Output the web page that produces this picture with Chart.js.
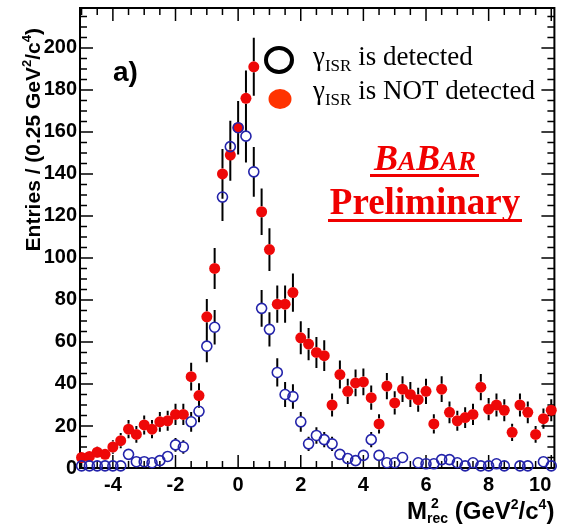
<!DOCTYPE html>
<html lang="en">
<head>
<meta charset="UTF-8">
<title>M2rec - BABAR</title>
<script src="https://cdn.jsdelivr.net/npm/chart.js"></script>
<style>
    html, body { margin: 0; padding: 0; background: #fff; }
</style>
</head>
<body>
<canvas id="grafico" width="561" height="526"></canvas>

<script>
    // bins de 0.25 GeV^2/c^4, primeiro ponto em -5
    const xInicio = -5;
    const xPasso = 0.25;

    // gamma ISR NAO detectado (vermelho cheio)
    const naoDetectado = [5, 5.5, 7.5, 6.5, 10, 13, 18.5, 16, 20.5, 18.5,
        22, 22.5, 25.5, 25.5, 43.5, 34.5, 72, 95, 140, 149,
        162, 176, 191, 122, 104, 78, 78, 83.5, 62, 59,
        55, 53.5, 30, 44.5, 36.5, 40.5, 41, 33.5, 21, 39,
        31, 37.5, 35, 32.5, 36.5, 21, 37.5, 26.5, 22.5, 24,
        25.5, 38.5, 28, 30, 27.5, 17, 30, 26.5, 16, 23.5, 27.5];

    // gamma ISR detectado (azul vazio)
    const detectado = [1, 1, 1, 1, 1, 1, 6.5, 3, 3, 2.5,
        3.5, 5.5, 11, 10, 22, 27, 58, 67, 129, 153,
        162, 158, 141, 76, 66, 45.5, 35, 34, 22, 11.5,
        15.5, 13.5, 11.5, 6.5, 4.5, 3.5, 6, 13.5, 6, 2.5,
        2.5, 5, null, 2.5, 2, 2, 4, 4, 2.5, 1,
        2.5, 1, 1, 2, 1, null, 1, 1, null, 3, 1];

    const ticksX = [-5, -4, -2, 0, 2, 4, 6, 8, 10];
    const rotulosX = ['', '-4', '-2', '0', '2', '4', '6', '8', '10'];
    const ticksY = [0, 20, 40, 60, 80, 100, 120, 140, 160, 180, 200];

    function pontos(valores) {
        return valores.map((v, i) => ({ x: xInicio + i * xPasso, y: v }));
    }

    // desenha pedacos de texto em sequencia: [texto, fonte, deslocamento vertical]
    function larguraTrechos(ctx, trechos) {
        let w = 0;
        trechos.forEach(t => { ctx.font = t[1]; w += ctx.measureText(t[0]).width; });
        return w;
    }
    function escreveTrechos(ctx, trechos, x, y) {
        trechos.forEach(t => {
            ctx.font = t[1];
            ctx.fillText(t[0], x, y + t[2]);
            x += ctx.measureText(t[0]).width;
        });
        return x;
    }

    // moldura e ticks para dentro (estilo ROOT)
    const moldura = {
        id: 'moldura',
        beforeDatasetsDraw(chart) {
            const { ctx, chartArea: a, scales: { x, y } } = chart;
            ctx.save();
            ctx.strokeStyle = '#000';
            ctx.lineWidth = 2;
            ctx.strokeRect(a.left, a.top, a.right - a.left, a.bottom - a.top);
            ctx.lineWidth = 1.5;
            ctx.beginPath();
            for (let v = -5; v <= 10; v += 0.5) {
                const px = x.getPixelForValue(v);
                const len = (v % 2 === 0) ? 13 : 7;
                ctx.moveTo(px, a.bottom); ctx.lineTo(px, a.bottom - len);
                ctx.moveTo(px, a.top); ctx.lineTo(px, a.top + len);
            }
            for (let v = 0; v <= 215; v += 5) {
                const py = y.getPixelForValue(v);
                const len = (v % 20 === 0) ? 13 : 7;
                ctx.moveTo(a.left, py); ctx.lineTo(a.left + len, py);
                ctx.moveTo(a.right, py); ctx.lineTo(a.right - len, py);
            }
            ctx.stroke();
            ctx.restore();
        }
    };

    // barras de erro: sqrt(N) de cada bin
    const barrasErro = {
        id: 'barrasErro',
        beforeDatasetsDraw(chart) {
            const { ctx, scales: { x, y } } = chart;
            ctx.save();
            ctx.strokeStyle = '#000';
            ctx.lineWidth = 2;
            ctx.beginPath();
            chart.data.datasets.forEach(ds => {
                const r = ds.pointRadius;
                ds.data.forEach(p => {
                    if (p.y == null) return;
                    const e = Math.sqrt(p.y);
                    const px = x.getPixelForValue(p.x);
                    const py = y.getPixelForValue(p.y);
                    const topo = y.getPixelForValue(p.y + e);
                    const base = y.getPixelForValue(Math.max(p.y - e, 0));
                    if (topo < py - r) { ctx.moveTo(px, topo); ctx.lineTo(px, py - r); }
                    if (base > py + r) { ctx.moveTo(px, py + r); ctx.lineTo(px, base); }
                });
            });
            ctx.stroke();
            ctx.restore();
        }
    };

    // titulos, legenda e textos
    const textos = {
        id: 'textos',
        afterDraw(chart) {
            const ctx = chart.ctx;
            const a = chart.chartArea;
            ctx.save();
            ctx.fillStyle = '#000';
            ctx.textBaseline = 'alphabetic';
            ctx.textAlign = 'left';

            // titulo eixo y
            const b21 = 'bold 21px "Liberation Sans", Arial, sans-serif';
            const b13 = 'bold 13px "Liberation Sans", Arial, sans-serif';
            const tituloY = [['Entries / (0.25 GeV', b21, 0], ['2', b13, -9], ['/c', b21, 0], ['4', b13, -9], [')', b21, 0]];
            ctx.save();
            ctx.translate(40, 28);
            ctx.rotate(-Math.PI / 2);
            escreveTrechos(ctx, tituloY, -larguraTrechos(ctx, tituloY), 0);
            ctx.restore();

            // titulo eixo x: M^2_rec (GeV^2/c^4)
            const b24 = 'bold 24px "Liberation Sans", Arial, sans-serif';
            const b14 = 'bold 14px "Liberation Sans", Arial, sans-serif';
            const resto = [[' (GeV', b24, 0], ['2', b14, -10], ['/c', b24, 0], ['4', b14, -10], [')', b24, 0]];
            ctx.font = b24;
            const wM = ctx.measureText('M').width;
            ctx.font = b14;
            const wPilha = ctx.measureText('rec').width;
            const base = 519;
            let x0 = a.right - (wM + wPilha + larguraTrechos(ctx, resto));
            ctx.font = b24;
            ctx.fillText('M', x0, base);
            ctx.font = b14;
            ctx.fillText('2', x0 + wM + 4, base - 11);
            ctx.fillText('rec', x0 + wM, base + 4);
            escreveTrechos(ctx, resto, x0 + wM + wPilha, base);

            // a)
            ctx.font = 'bold 28px "Liberation Sans", Arial, sans-serif';
            ctx.fillText('a)', 113, 81);

            // legenda
            ctx.strokeStyle = '#000';
            ctx.lineWidth = 4;
            ctx.beginPath();
            ctx.ellipse(279, 60, 13, 12, 0, 0, Math.PI * 2);
            ctx.stroke();
            ctx.fillStyle = '#ff3300';
            ctx.beginPath();
            ctx.ellipse(280, 99, 11.5, 10, 0, 0, Math.PI * 2);
            ctx.fill();

            ctx.fillStyle = '#000';
            const s27 = '27px "Liberation Serif", "Times New Roman", serif';
            const s17 = '17px "Liberation Serif", "Times New Roman", serif';
            escreveTrechos(ctx, [['\u03b3', s27, 0], ['ISR', s17, 6], [' is detected', s27, 0]], 313, 65);
            escreveTrechos(ctx, [['\u03b3', s27, 0], ['ISR', s17, 6], [' is NOT detected', s27, 0]], 313, 99);

            // BABAR Preliminary
            ctx.fillStyle = '#f00000';
            ctx.strokeStyle = '#f00000';
            const bi36 = 'italic bold 36px "Liberation Serif", "Times New Roman", serif';
            const bi27 = 'italic bold 27px "Liberation Serif", "Times New Roman", serif';
            const babar = [['B', bi36, 0], ['A', bi27, 0], ['B', bi36, 0], ['AR', bi27, 0]];
            const wB = larguraTrechos(ctx, babar);
            const xB = 425 - wB / 2;
            escreveTrechos(ctx, babar, xB, 170);
            ctx.lineWidth = 3;
            ctx.beginPath();
            ctx.moveTo(370, 175.5); ctx.lineTo(479, 175.5);
            ctx.stroke();

            ctx.font = 'bold 37px "Liberation Serif", "Times New Roman", serif';
            ctx.textAlign = 'center';
            ctx.fillText('Preliminary', 425, 214);
            ctx.beginPath();
            ctx.moveTo(328, 220.5); ctx.lineTo(522, 220.5);
            ctx.stroke();

            ctx.restore();
        }
    };

    const dados = {
        datasets: [{
            label: 'gamma ISR detectado',
            data: pontos(detectado),
            backgroundColor: 'rgba(0,0,0,0)',
            borderColor: 'rgb(35, 35, 170)',
            borderWidth: 1.6,
            pointRadius: 5,
            pointHoverRadius: 5,
            clip: false,
            order: 0
        }, {
            label: 'gamma ISR nao detectado',
            data: pontos(naoDetectado),
            backgroundColor: 'rgb(238, 8, 8)',
            borderColor: 'rgb(238, 8, 8)',
            borderWidth: 0,
            pointRadius: 5.5,
            pointHoverRadius: 5.5,
            clip: false,
            order: 1
        }]
    };

    const config = {
        type: 'scatter',
        data: dados,
        options: {
            responsive: false,
            animation: false,
            layout: { padding: { left: 0, right: 4, top: 8, bottom: 0 } },
            plugins: {
                legend: { display: false },
                tooltip: { enabled: false }
            },
            scales: {
                x: {
                    type: 'linear',
                    min: -5.05,
                    max: 10.1,
                    grid: { display: false, drawTicks: false },
                    border: { display: false },
                    afterBuildTicks: s => { s.ticks = ticksX.map(v => ({ value: v })); },
                    afterFit: s => { s.height = 58; s.paddingLeft = 0; s.paddingRight = 0; },
                    ticks: {
                        autoSkip: false,
                        maxRotation: 0,
                        align: 'inner',
                        padding: 5,
                        color: '#000',
                        font: { family: '"Liberation Sans", Arial, sans-serif', size: 20, weight: 'bold' },
                        callback: (v, i) => rotulosX[i]
                    }
                },
                y: {
                    min: 0,
                    max: 219,
                    grid: { display: false, drawTicks: false },
                    border: { display: false },
                    afterBuildTicks: s => { s.ticks = ticksY.map(v => ({ value: v })); },
                    afterFit: s => { s.width = 80; s.paddingTop = 0; s.paddingBottom = 0; },
                    ticks: {
                        autoSkip: false,
                        padding: 3,
                        color: '#000',
                        font: { family: '"Liberation Sans", Arial, sans-serif', size: 20, weight: 'bold' }
                    }
                }
            }
        },
        plugins: [moldura, barrasErro, textos]
    };

    let grafico = new Chart(document.getElementById('grafico'), config);
</script>
</body>
</html>
